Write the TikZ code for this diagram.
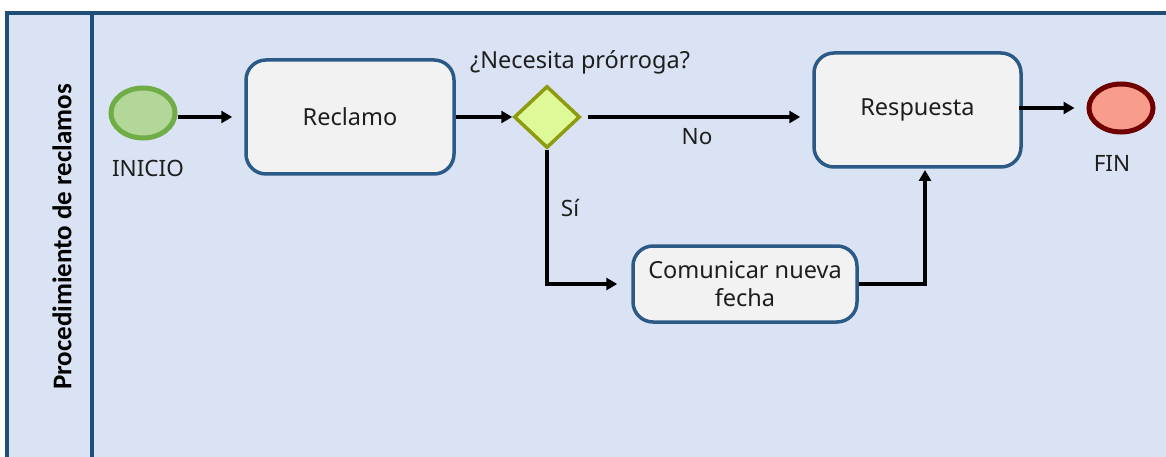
\documentclass[tikz,border=0pt]{standalone}
\usepackage{fontspec}
\setmainfont{Noto Sans}
\newfontfamily\lanefont{Carlito}
\usetikzlibrary{shapes.geometric,arrows.meta}
\definecolor{frameblue}{RGB}{31,78,121}
\definecolor{lanebg}{RGB}{218,227,243}
\definecolor{taskfill}{RGB}{242,242,242}
\definecolor{taskdraw}{RGB}{44,90,135}
\definecolor{startfill}{RGB}{178,215,152}
\definecolor{startdraw}{RGB}{112,173,71}
\definecolor{gwfill}{RGB}{222,250,152}
\definecolor{gwdraw}{RGB}{143,155,15}
\definecolor{endfill}{RGB}{248,156,140}
\definecolor{enddraw}{RGB}{112,0,0}
\definecolor{txt}{RGB}{30,30,30}
\tikzset{
  frame/.style={draw=frameblue, line width=3.5},
  taskbox/.style={draw=taskdraw, fill=taskfill, line width=3.5, rounded corners=20, align=center, font=\fontsize{23.5}{28}\selectfont, text=txt, inner sep=0},
  startev/.style={ellipse, draw=startdraw, fill=startfill, line width=5, minimum width=64, minimum height=50, inner sep=0},
  endev/.style={ellipse, draw=enddraw, fill=endfill, line width=5, minimum width=64, minimum height=48, inner sep=0},
  gwnode/.style={diamond, draw=gwdraw, fill=gwfill, line width=3.5, minimum width=66, minimum height=62, inner sep=0},
  lbl/.style={font=\fontsize{22.5}{27}\selectfont, text=txt, inner sep=0},
  flow/.style={draw=black, line width=3.5, -{Triangle[length=11,width=12]}},
}
\begin{document}
\begin{tikzpicture}[x=1pt,y=-1pt]
\useasboundingbox (0,0) rectangle (1166,457);
\fill[white] (0,0) rectangle (1166,457);
\clip (0,0) rectangle (1166,457);
\draw[frame, fill=lanebg] (7,13) rectangle (1180,470);
\draw[frame] (92,13) -- (92,470);
\node[rotate=90, font=\lanefont\bfseries\fontsize{27}{32}\selectfont, text=black, inner sep=0] (lane) at (62,237) {Procedimiento de reclamos};

\node[startev] (inicio) at (143,113) {};
\node[lbl] (inicioL) at (148,168) {INICIO};
\node[taskbox, minimum width=208, minimum height=114] (reclamo) at (350,117) {Reclamo};
\node[gwnode] (gw) at (547,117) {};
\node[lbl, font=\fontsize{23.5}{28}\selectfont] (gwL) at (580,62) {¿Necesita prórroga?};
\node[taskbox, minimum width=207, minimum height=114] (resp) at (917.5,110) {Respuesta};
\node[endev] (fin) at (1121,108) {};
\node[lbl] (finL) at (1112,163) {FIN};
\node[taskbox, minimum width=224, minimum height=76] (com) at (745,284) {Comunicar nueva\\fecha};
\node[lbl] (noL) at (697,137) {No};
\node[lbl] (siL) at (570,208) {Sí};
\coordinate (upend) at (925,170);

\draw[flow, shorten >=12] (inicio.east |- reclamo.west) -- (reclamo.west);
\draw[flow] (reclamo.east) -- (gw.west);
\draw[flow, shorten <=6, shorten >=12] (gw.east) -- (gw.east -| resp.west);
\draw[flow, shorten <=-4, shorten >=12] (resp.east |- fin.west) -- (fin.west);
\draw[flow, shorten >=14] (gw.south) |- (com.west);
\draw[flow] (com.east) -| (upend);
\end{tikzpicture}
\end{document}
